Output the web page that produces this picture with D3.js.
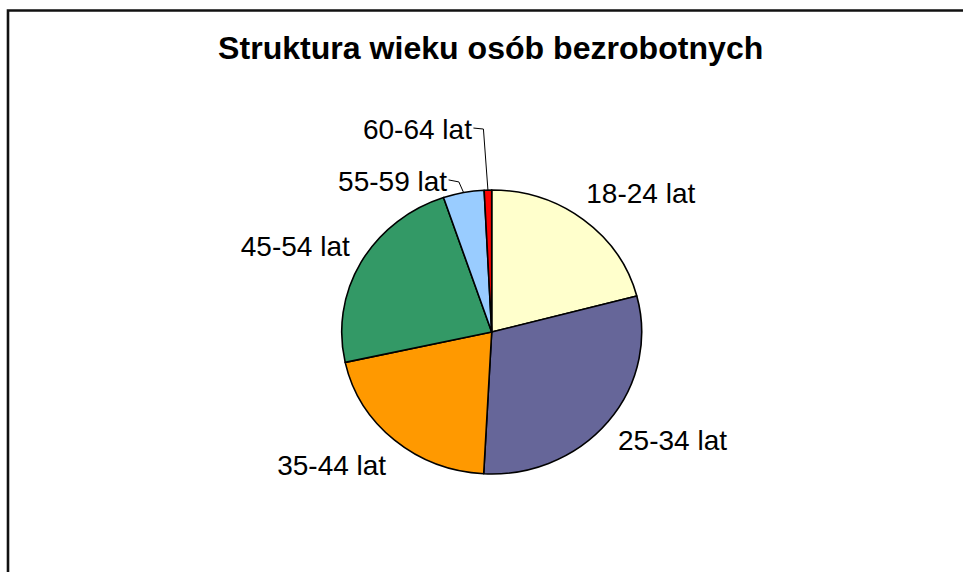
<!DOCTYPE html>
<html>
<head>
<meta charset="utf-8">
<script src="https://cdn.jsdelivr.net/npm/d3@7"></script>
<style>
  body { margin: 0; background: #fff; }
  text { font-family: "Liberation Sans", Arial, sans-serif; fill: #000; }
</style>
</head>
<body>
<svg id="chart" width="963" height="572"></svg>
<script>
var chartTitle = 'Struktura wieku osób bezrobotnych';
var ageGroups = ['18-24 lat', '25-34 lat', '35-44 lat', '45-54 lat', '55-59 lat', '60-64 lat'];
var shares = [20.9, 29.9, 20.7, 23.2, 4.4, 0.8];
var sliceColors = ['#ffffcc', '#666699', '#ff9900', '#339966', '#99ccff', '#ff0000'];

// layout
var width = 963, height = 572;
var cx = 491.7, cy = 332, radius = 150, ky = 142 / 150;
var labelRadius = 163, capHeight = 20;
// small nudges where the labels sit a bit off the default spot
var nudges = { 0: [-5, -7], 2: [0, 5] };
// small slices have dragged labels with leader lines: [elbow dx, dy, label dx, dy] from the rim
var leaders = { 4: [-4.7, -10.6, -15, -12.6], 5: [-4.5, -61, -14.5, -62] };

var svg = d3.select('#chart');

// frame (only top and left edges are visible in the shot)
svg.append('path')
    .attr('d', 'M8,' + height + 'V10.5H' + width)
    .attr('fill', 'none')
    .attr('stroke', '#111')
    .attr('stroke-width', 2.6);

svg.append('text')
    .attr('x', 490.7)
    .attr('y', 59.5)
    .attr('text-anchor', 'middle')
    .attr('font-size', 31)
    .attr('font-weight', 'bold')
    .attr('transform', 'translate(490.7,0) scale(1.035,1) translate(-490.7,0)')
    .text(chartTitle);

var data = ageGroups.map(function (g, i) { return { name: g, value: shares[i], color: sliceColors[i], i: i }; });

var pie = d3.pie().sort(null).value(function (d) { return d.value; });
var arc = d3.arc().innerRadius(0).outerRadius(radius);
var arcs = pie(data);

var g = svg.append('g')
    .attr('transform', 'translate(' + cx + ',' + cy + ') scale(1,' + ky + ')');

g.selectAll('path')
    .data(arcs)
    .enter().append('path')
    .attr('d', arc)
    .attr('fill', function (d) { return d.data.color; })
    .attr('stroke', '#000')
    .attr('stroke-width', 1.6)
    .attr('stroke-linejoin', 'round')
    .attr('vector-effect', 'non-scaling-stroke');

function polar(r, a) {
    return [cx + r * Math.sin(a), cy - r * Math.cos(a) * ky];
}

arcs.forEach(function (d) {
    var mid = (d.startAngle + d.endAngle) / 2;
    var lead = leaders[d.data.i];
    if (lead) {
        var e = polar(radius, mid);
        var pts = [[e[0] + lead[2], e[1] + lead[3]], [e[0] + lead[0], e[1] + lead[1]], e];
        svg.append('path')
            .attr('d', d3.line()(pts))
            .attr('fill', 'none')
            .attr('stroke', '#000')
            .attr('stroke-width', 1);
        svg.append('text')
            .attr('x', pts[0][0] - 1.5)
            .attr('y', pts[0][1] + 11)
            .attr('text-anchor', 'end')
            .attr('font-size', 28)
            .text(d.data.name);
        return;
    }
    var p = polar(labelRadius, mid);
    var n = nudges[d.data.i] || [0, 0];
    var right = Math.sin(mid) > 0, top = Math.cos(mid) > 0;
    svg.append('text')
        .attr('x', p[0] + n[0])
        .attr('y', (top ? p[1] : p[1] + capHeight) + n[1])
        .attr('text-anchor', right ? 'start' : 'end')
        .attr('font-size', 28)
        .text(d.data.name);
});
</script>
</body>
</html>
